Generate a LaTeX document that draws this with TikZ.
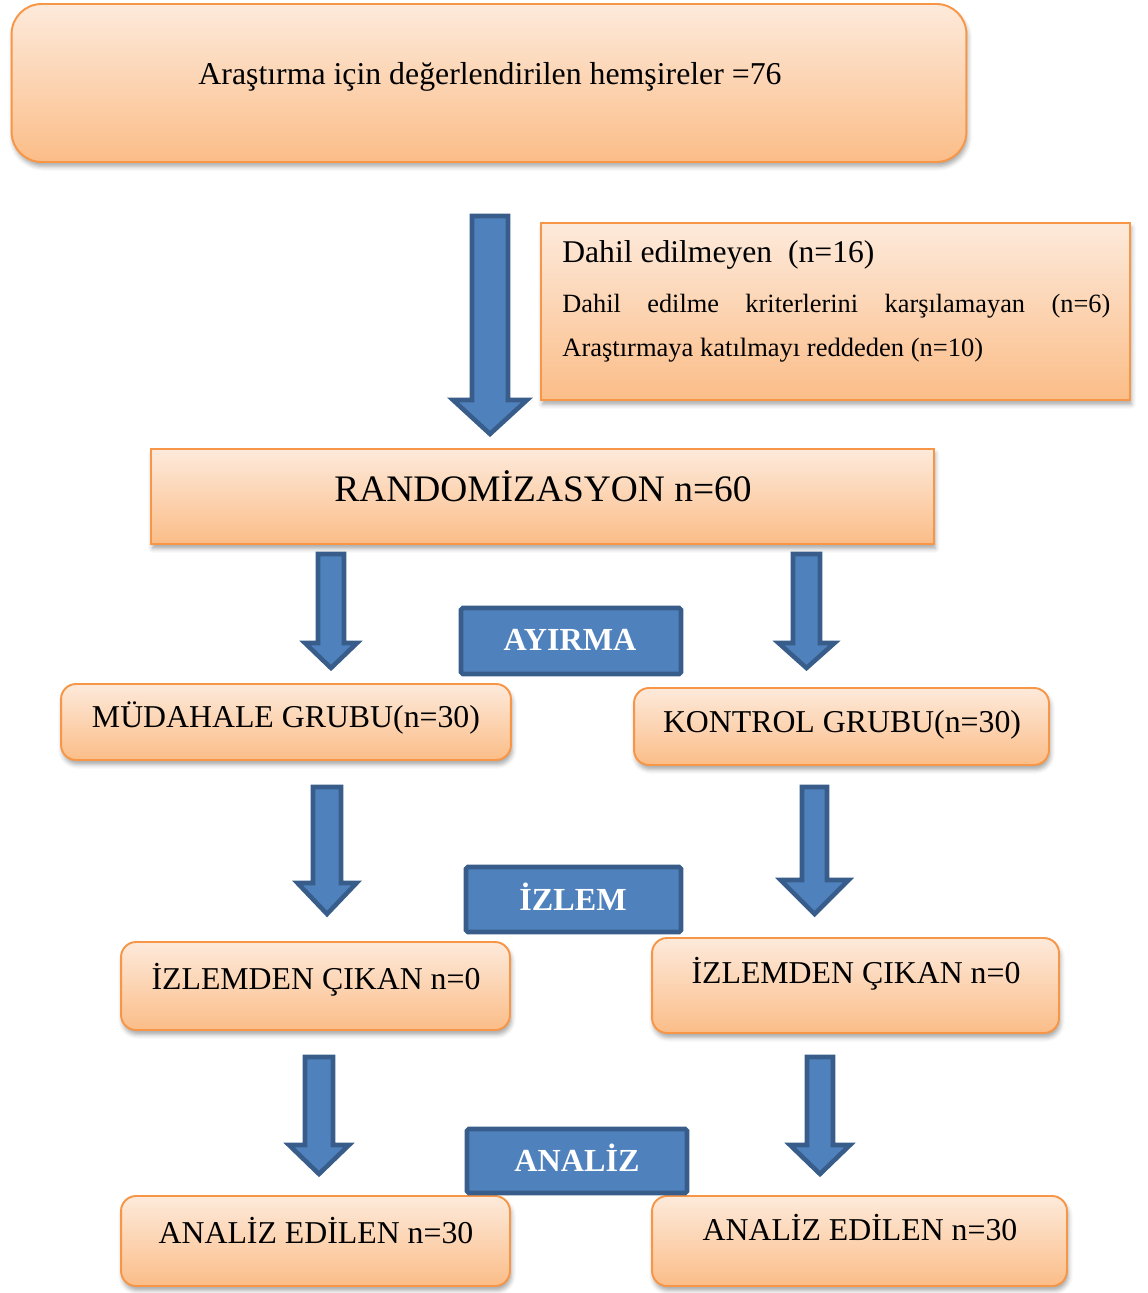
\documentclass[tikz,border=0pt]{standalone}
\usepackage{fontspec}
\setmainfont{Liberation Serif}
\usetikzlibrary{calc,shadows.blur}

\definecolor{oline}{HTML}{F79646}
\definecolor{otop}{HTML}{FDEADB}
\definecolor{obot}{HTML}{FBBD88}
\definecolor{bfill}{HTML}{4F81BD}
\definecolor{bline}{HTML}{385D8A}

\tikzset{
  obox/.style={draw=oline, line width=1.1pt, top color=otop, bottom color=obot,
    rounded corners=0.3cm, inner sep=0pt,
    blur shadow={shadow xshift=0.8pt, shadow yshift=-2.5pt, shadow blur radius=2.5pt, shadow opacity=35}},
  sqbox/.style={obox, sharp corners},
  tagbox/.style={draw=bline, fill=bfill, line width=2.6pt, rounded corners=1pt, inner sep=0pt},
  bigarrow/.style={draw=bline, fill=bfill, line width=2.6pt, line join=miter},
  txt/.style={inner sep=0pt, anchor=base, font=\fontsize{18.1}{22}\selectfont},
  tagtxt/.style={txt, text=white, font=\bfseries\fontsize{18.3}{22}\selectfont},
}

% block arrow: top coordinate, tip coordinate, shaft half width, head half width, head length
\newcommand\blockarrow[5]{%
  \draw[bigarrow] ($(#1)+(-#3,0)$) -- ($(#1)+(#3,0)$) -- ($(#2)+(#3,-#5)$)
    -- ($(#2)+(#4,-#5)$) -- (#2) -- ($(#2)+(-#4,-#5)$) -- ($(#2)+(-#3,-#5)$) -- cycle;}

\begin{document}
\begin{tikzpicture}[x=0.02cm, y=-0.02cm]
    \useasboundingbox (0,0) rectangle (1147,1293);

    % degerlendirilen
    \node[obox, rounded corners=0.6cm, minimum width=19.1cm, minimum height=3.16cm] (eval) at (489,83) {};
    \node[txt] (evalT) at (490,85) {Araştırma için değerlendirilen hemşireler =76};

    % dahil edilmeyen
    \node[sqbox, minimum width=11.78cm, minimum height=3.54cm] (excl) at (835.5,311.5) {};
    \node[txt, anchor=base west, font=\fontsize{18}{21}\selectfont] (exclA) at (562,263) {Dahil edilmeyen\ \ (n=16)};
    \node[txt, anchor=base west, font=\fontsize{15}{18}\selectfont] (exclB) at (562,313)
      {\makebox[10.96cm][s]{Dahil edilme kriterlerini karşılamayan (n=6)}};
    \node[txt, anchor=base west, font=\fontsize{15.1}{18}\selectfont] (exclC) at (562,357) {Araştırmaya katılmayı reddeden (n=10)};

    % randomizasyon
    \node[sqbox, minimum width=15.66cm, minimum height=1.9cm] (rand) at (542.5,496.5) {};
    \node[txt, font=\fontsize{21.3}{25}\selectfont] (randT) at (543,501) {RANDOMİZASYON n=60};

    % gruplar
    \node[obox, minimum width=9.0cm, minimum height=1.52cm] (mud) at (286,722) {};
    \node[txt] (mudT) at (286,727) {MÜDAHALE GRUBU(n=30)};
    \node[obox, minimum width=8.3cm, minimum height=1.54cm] (kon) at (841.5,726.5) {};
    \node[txt] (konT) at (842,732) {KONTROL GRUBU(n=30)};

    % izlem
    \node[obox, minimum width=7.78cm, minimum height=1.76cm] (izlL) at (315.5,986) {};
    \node[txt] (izlLT) at (316,989) {İZLEMDEN ÇIKAN n=0};
    \node[obox, minimum width=8.14cm, minimum height=1.9cm] (izlR) at (855.5,985.5) {};
    \node[txt] (izlRT) at (856,983) {İZLEMDEN ÇIKAN n=0};

    % analiz
    \node[obox, minimum width=7.78cm, minimum height=1.8cm] (anL) at (315.5,1241) {};
    \node[txt] (anLT) at (316,1243) {ANALİZ EDİLEN n=30};
    \node[obox, minimum width=8.3cm, minimum height=1.8cm] (anR) at (859.5,1241) {};
    \node[txt] (anRT) at (860,1240) {ANALİZ EDİLEN n=30};

    % mavi etiketler
    \node[tagbox, minimum width=4.4cm, minimum height=1.32cm] (ayr) at (571,641) {};
    \node[tagtxt] (ayrT) at (570,650) {AYIRMA};
    \node[tagbox, minimum width=4.3cm, minimum height=1.3cm] (izm) at (573.5,899.5) {};
    \node[tagtxt] (izmT) at (573,910) {İZLEM};
    \node[tagbox, minimum width=4.4cm, minimum height=1.28cm] (anz) at (577,1161) {};
    \node[tagtxt] (anzT) at (577,1171) {ANALİZ};

    % oklar
    \coordinate (a0s) at (490,216);  \coordinate (a0e) at (490,434);
    \coordinate (a1s) at (331,554);  \coordinate (a1e) at (331,668);
    \coordinate (a2s) at (806.5,554);\coordinate (a2e) at (806.5,668);
    \coordinate (a3s) at (327,787);  \coordinate (a3e) at (327,914);
    \coordinate (a4s) at (814.5,787);\coordinate (a4e) at (814.5,914);
    \coordinate (a5s) at (319,1057); \coordinate (a5e) at (319,1174);
    \coordinate (a6s) at (820,1057); \coordinate (a6e) at (820,1174);
    \blockarrow{a0s}{a0e}{18}{37}{34}
    \blockarrow{a1s}{a1e}{13}{26}{25}
    \blockarrow{a2s}{a2e}{13.5}{28}{25}
    \blockarrow{a3s}{a3e}{14}{29.5}{31}
    \blockarrow{a4s}{a4e}{12.5}{34}{34}
    \blockarrow{a5s}{a5e}{14}{30}{29}
    \blockarrow{a6s}{a6e}{13}{30}{29}
\end{tikzpicture}
\end{document}
